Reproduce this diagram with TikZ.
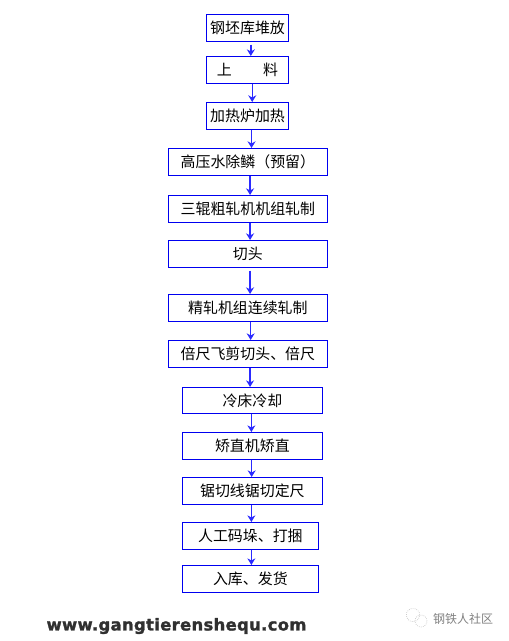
\documentclass[tikz,border=0pt]{standalone}
\usepackage{fontspec}
\newfontfamily\cjk{Noto Sans CJK SC}
\newfontfamily\markfont{DejaVu Sans}[FakeBold=1.5,LetterSpace=2]
\usetikzlibrary{positioning,arrows.meta}
\definecolor{boxcol}{HTML}{0000F0}
\definecolor{flowcol}{HTML}{2A2AFF}
\definecolor{markcol}{HTML}{303030}
\begin{document}
\begin{tikzpicture}[x=0.75pt,y=-0.75pt,font=\cjk\fontsize{11.2pt}{13pt}\selectfont,
   stepbox/.style={draw=boxcol,line width=0.8pt,inner sep=0pt,align=center,anchor=north west},
   flow/.style={draw=flowcol,line width=1.1pt,-{Stealth[length=5pt,width=6pt]}},
   bubble/.style={draw=black!25,line width=0.5pt,densely dotted,circle,inner sep=0pt},
]
\useasboundingbox (0,0) rectangle (508,641);
\node[stepbox,minimum width=61.5pt,minimum height=20.2pt] (stock) at (206,14) {钢坯库堆放};
\node[stepbox,minimum width=61.5pt,minimum height=20.2pt] (feed) at (206,56) {上\hspace{2.1em}料};
\node[stepbox,minimum width=61.5pt,minimum height=20.2pt] (heat) at (206,102) {加热炉加热};
\node[stepbox,minimum width=119pt,minimum height=20.2pt] (descale) at (168,148) {高压水除鳞（预留）};
\node[stepbox,minimum width=119pt,minimum height=20.2pt] (rough) at (168,195) {三辊粗轧机机组轧制};
\node[stepbox,minimum width=119pt,minimum height=20.2pt] (crop) at (168,240) {切头};
\node[stepbox,minimum width=119pt,minimum height=20.2pt] (finish) at (168,294) {精轧机组连续轧制};
\node[stepbox,minimum width=119pt,minimum height=20.2pt] (shear) at (168,340) {倍尺飞剪切头、倍尺};
\node[stepbox,minimum width=105.5pt,minimum height=19.5pt] (cool) at (181.5,387) {冷床冷却};
\node[stepbox,minimum width=105.5pt,minimum height=20.2pt] (straight) at (181.5,432) {矫直机矫直};
\node[stepbox,minimum width=105.5pt,minimum height=20.2pt] (saw) at (181.5,477) {锯切线锯切定尺};
\node[stepbox,minimum width=102.5pt,minimum height=20.2pt] (stack) at (181.5,522) {人工码垛、打捆};
\node[stepbox,minimum width=102.5pt,minimum height=20.2pt] (ship) at (181.5,565) {入库、发货};

\draw[flow,shorten <=2pt] (stock.south) ++(3.3,0) coordinate (a1) -- (a1 |- feed.north);
\draw[flow] (feed.south) ++(4.7,0) coordinate (a2) -- (a2 |- heat.north);
\draw[flow] (heat.south) ++(4,0) coordinate (a3) -- (a3 |- descale.north);
\draw[flow] (descale.south) ++(2.2,0) coordinate (a4) -- (a4 |- rough.north);
\draw[flow] (rough.south) ++(2.2,0) coordinate (a5) -- (a5 |- crop.north);
\draw[flow,shorten <=2pt] (crop.south) ++(2.2,0) coordinate (a6) -- (a6 |- finish.north);
\draw[flow] (finish.south) ++(2.8,0) coordinate (a7) -- (a7 |- shear.north);
\draw[flow] (shear.south) ++(2.2,0) coordinate (a8) -- (a8 |- cool.north);
\draw[flow] (cool.south) ++(-1,0) coordinate (a9) -- (a9 |- straight.north);
\draw[flow] (straight.south) ++(-0.7,0) coordinate (a10) -- (a10 |- saw.north);
\draw[flow] (saw.south) ++(-1,0) coordinate (a11) -- (a11 |- stack.north);
\draw[flow] (stack.south) ++(1,0) coordinate (a12) -- (a12 |- ship.north);

\node[font=\markfont\bfseries\fontsize{12.3pt}{14pt}\selectfont,text=markcol] (site) at (176.5,626) {www.gangtierenshequ.com};
\node[bubble,minimum size=10pt] (bubbleA) at (413,615) {};
\node[bubble,minimum size=9pt] (bubbleB) at (421,621) {};
\node[font=\cjk\fontsize{9pt}{11pt}\selectfont,text=black!50] (brand) at (463,619) {钢铁人社区};
\end{tikzpicture}
\end{document}
